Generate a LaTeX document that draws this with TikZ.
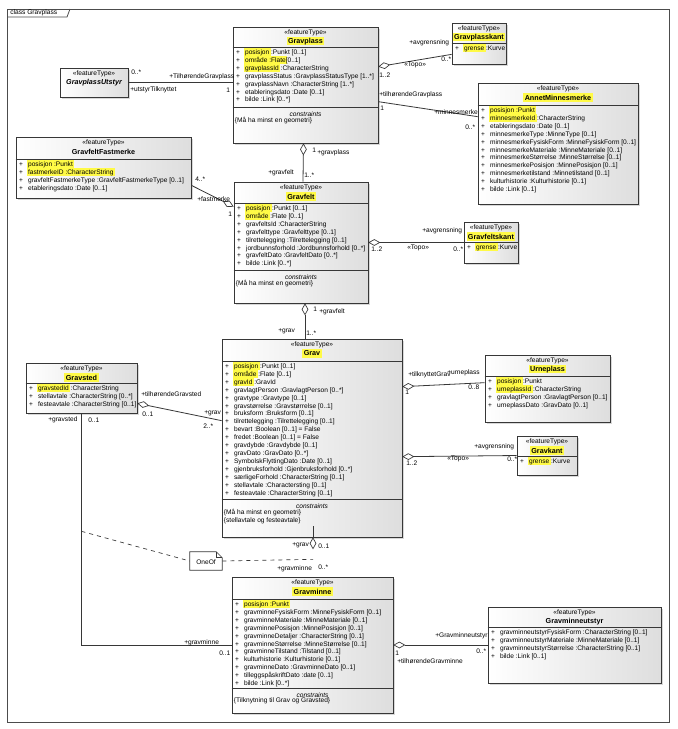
\documentclass[tikz,border=0pt]{standalone}
\usepackage{fontspec}
\setmainfont{Liberation Sans}
\usetikzlibrary{arrows.meta, positioning, calc, fit, shadows}
\definecolor{hlyellow}{RGB}{255,250,70}
\definecolor{umlline}{RGB}{55,55,55}

\newcommand{\umlfont}{\fontsize{4.95pt}{5.93pt}\selectfont}
\newcommand{\namefont}{\fontsize{5.4pt}{6pt}\selectfont}
% yellow marker behind a word, without changing the line height
\newcommand{\hlt}[1]{\setbox0=\hbox{#1}\rlap{\hskip-1.1pt\smash{\color{hlyellow}\rule[-0.5ex]{\dimexpr\wd0+2.2pt\relax}{2.25ex}}}\box0}
\newcommand{\pl}{\makebox[8pt][l]{\hspace{1.2pt}+}}

% class box: name, top left, bottom right, header height, title
\newcommand{\featurebox}[5]{%
  \node[clsbox, fit={#2 #3}] (#1) {};
  \node[stereo] (#1-st) at ($(#1.north)+(0,6.5)$) {«featureType»};
  \node[clsname] (#1-nm) at ($(#1.north)+(0,14.8)$) {#5};
  \draw[sepline] ($(#1.north west)+(0,#4)$) -- ($(#1.north east)+(0,#4)$);
}
\newcommand{\attrlist}[3]{%
  \node[attrs] (#1-at) at ($(#1.north west)+(1.5,#2+1.8)$) {#3};
}
\newcommand{\constraintpart}[3]{%
  \draw[sepline] ($(#1.north west)+(0,#2)$) -- ($(#1.north east)+(0,#2)$);
  \node[stereo, font=\umlfont\itshape] (#1-ch) at ($(#1.north)+(0,#2+6)$) {constraints};
  \node[attrs] (#1-cn) at ($(#1.north west)+(2,#2+9)$) {#3};
}

\begin{document}
\begin{tikzpicture}[x=0.75pt, y=-0.75pt,
  clsbox/.style={draw=umlline, line width=0.5pt, left color=white, right color=black!13, inner sep=0pt,
    drop shadow={shadow xshift=1.3pt, shadow yshift=-1.3pt, opacity=0.3}},
  stereo/.style={font=\umlfont, inner sep=0pt},
  clsname/.style={font=\namefont\bfseries, inner sep=0pt},
  attrs/.style={font=\umlfont, align=left, anchor=north west, inner sep=0pt},
  role/.style={font=\umlfont, anchor=west, inner sep=0pt},
  sepline/.style={draw=umlline, line width=0.5pt},
  conn/.style={draw=umlline, line width=0.6pt},
  aggr/.style={conn, {Diamond[open, length=9pt, width=5pt, line width=0.5pt]}-},
  frameline/.style={draw=black!70, line width=0.6pt}
]
\useasboundingbox (0,0) rectangle (678,729);
\fill[white] (0,0) rectangle (678,729);

% frame
\draw[frameline] (7,9) rectangle (669,722);
\draw[frameline] (7,17) -- (67,17) -- (70,9);
\node[role, font=\fontsize{5pt}{6pt}\selectfont] (title) at (10,13) {class Gravplass};

% classes
\node[clsbox, fit={(60,68) (128,97)}] (gravplassutstyr) {};
\node[stereo] (gravplassutstyr-st) at ($(gravplassutstyr.north)+(0,6.5)$) {«featureType»};
\node[clsname, font=\namefont\bfseries\itshape] (gravplassutstyr-nm) at ($(gravplassutstyr.north)+(0,14.5)$) {GravplassUtstyr};

\featurebox{gravplass}{(233,27)}{(378,143)}{21}{\hlt{Gravplass}}
\attrlist{gravplass}{21}{\pl\hlt{posisjon}~:Punkt [0..1]\\
  \pl\hlt{område~:Flate} [0..1]\\
  \pl\hlt{gravplassId}~:CharacterString\\
  \pl gravplassStatus~:GravplassStatusType [1..*]\\
  \pl gravplassNavn~:CharacterString [1..*]\\
  \pl etableringsdato~:Date [0..1]\\
  \pl bilde~:Link [0..*]}
\constraintpart{gravplass}{81}{\{Må ha minst en geometri\}}

\featurebox{gravplasskant}{(452,23)}{(506,64)}{21}{\hlt{Gravplasskant}}
\attrlist{gravplasskant}{21}{\pl\hlt{grense}~:Kurve}

\featurebox{annetminnesmerke}{(478,83)}{(638,204)}{23}{\hlt{AnnetMinnesmerke}}
\attrlist{annetminnesmerke}{23}{\pl\hlt{posisjon~:Punkt}\\
  \pl\hlt{minnesmerkeId}~:CharacterString\\
  \pl etableringsdato~:Date [0..1]\\
  \pl minnesmerkeType~:MinneType [0..1]\\
  \pl minnesmerkeFysiskForm~:MinneFysiskForm [0..1]\\
  \pl minnesmerkeMateriale~:MinneMateriale [0..1]\\
  \pl minnesmerkeStørrelse~:MinneStørrelse [0..1]\\
  \pl minnesmerkePosisjon~:MinnePosisjon [0..1]\\
  \pl minnesmerketilstand~:Minnetilstand [0..1]\\
  \pl kulturhistorie~:Kulturhistorie [0..1]\\
  \pl bilde~:Link [0..1]}

\featurebox{gravfeltfastmerke}{(16,137)}{(191,198)}{23}{GravfeltFastmerke}
\attrlist{gravfeltfastmerke}{23}{\pl\hlt{posisjon~:Punkt}\\
  \pl\hlt{fastmerkeID~:CharacterString}\\
  \pl gravfeltFastmerkeType~:GravfeltFastmerkeType [0..1]\\
  \pl etableringsdato~:Date [0..1]}

\featurebox{gravfelt}{(234,182)}{(368,303)}{22}{\hlt{Gravfelt}}
\attrlist{gravfelt}{22}{\pl\hlt{posisjon}~:Punkt [0..1]\\
  \pl\hlt{område}~:Flate [0..1]\\
  \pl gravfeltsId~:CharacterString\\
  \pl gravfelttype~:Gravfelttype [0..1]\\
  \pl tilrettelegging~:Tilrettelegging [0..1]\\
  \pl jordbunnsforhold~:Jordbunnsforhold [0..*]\\
  \pl gravfeltDato~:GravfeltDato [0..*]\\
  \pl bilde~:Link [0..*]}
\constraintpart{gravfelt}{89}{\{Må ha minst en geometri\}}

\featurebox{gravfeltskant}{(464,222)}{(518,263)}{21}{\hlt{Gravfeltskant}}
\attrlist{gravfeltskant}{21}{\pl\hlt{grense}~:Kurve}

\featurebox{grav}{(222,339)}{(402,537)}{23}{\hlt{Grav}}
\attrlist{grav}{23}{\pl\hlt{posisjon}~:Punkt [0..1]\\
  \pl\hlt{område}~:Flate [0..1]\\
  \pl\hlt{gravId}~:GravId\\
  \pl gravlagtPerson~:GravlagtPerson [0..*]\\
  \pl gravtype~:Gravtype [0..1]\\
  \pl gravstørrelse~:Gravstørrelse [0..1]\\
  \pl bruksform~:Bruksform [0..1]\\
  \pl tilrettelegging~:Tilrettelegging [0..1]\\
  \pl bevart~:Boolean [0..1] = False\\
  \pl fredet~:Boolean [0..1] = False\\
  \pl gravdybde~:Gravdybde [0..1]\\
  \pl gravDato~:GravDato [0..*]\\
  \pl SymbolskFlyttingDato~:Date [0..1]\\
  \pl gjenbruksforhold~:Gjenbruksforhold [0..*]\\
  \pl særligeForhold~:CharacterString [0..1]\\
  \pl stellavtale~:Charactersting [0..1]\\
  \pl festeavtale~:CharacterString [0..1]}
\constraintpart{grav}{161}{\{Må ha minst en geometri\}\\\{stellavtale og festeavtale\}}

\featurebox{gravsted}{(26,363)}{(137,413)}{21}{\hlt{Gravsted}}
\attrlist{gravsted}{21}{\pl\hlt{gravstedId}~:CharacterString\\
  \pl stellavtale~:CharacterString [0..*]\\
  \pl festeavtale~:CharacterString [0..1]}

\featurebox{urneplass}{(485,355)}{(610,422)}{22}{\hlt{Urneplass}}
\attrlist{urneplass}{22}{\pl\hlt{posisjon}~:Punkt\\
  \pl\hlt{urneplassId}~:CharacterString\\
  \pl gravlagtPerson~:GravlagtPerson [0..1]\\
  \pl urneplassDato~:GravDato [0..1]}

\featurebox{gravkant}{(517,436)}{(577,475)}{21}{\hlt{Gravkant}}
\attrlist{gravkant}{21}{\pl\hlt{grense}~:Kurve}

\featurebox{gravminne}{(232,577)}{(393,713)}{23}{\hlt{Gravminne}}
\attrlist{gravminne}{23}{\pl\hlt{posisjon~:Punkt}\\
  \pl gravminneFysiskForm~:MinneFysiskForm [0..1]\\
  \pl gravminneMateriale~:MinneMateriale [0..1]\\
  \pl gravminnePosisjon~:MinnePosisjon [0..1]\\
  \pl gravminneDetaljer~:CharacterString [0..1]\\
  \pl gravminneStørrelse~:MinneStørrelse [0..1]\\
  \pl gravminneTilstand~:Tilstand [0..1]\\
  \pl kulturhistorie~:Kulturhistorie [0..1]\\
  \pl gravminneDato~:GravminneDato [0..1]\\
  \pl tilleggspåskriftDato~:date [0..1]\\
  \pl bilde~:Link [0..*]}
\constraintpart{gravminne}{112}{\{Tilknytning til Grav og Gravsted\}}

\featurebox{gravminneutstyr}{(488,607)}{(661,683)}{21}{Gravminneutstyr}
\attrlist{gravminneutstyr}{21}{\pl gravminneutstyrFysiskForm~:CharacterString [0..1]\\
  \pl gravminneutstyrMateriale~:MinneMateriale [0..1]\\
  \pl gravminneutstyrStørrelse~:CharacterString [0..1]\\
  \pl bilde~:Link [0..1]}

% note
\node[inner sep=0pt, fit={(190,552) (222,570)}] (oneof) {};
\draw[sepline, fill=white] (oneof.south west) -- (oneof.north west) -- ($(oneof.north east)+(-6,0)$)
  -- ($(oneof.north east)+(0,6)$) -- (oneof.south east) -- cycle;
\draw[sepline] ($(oneof.north east)+(-6,0)$) -- ($(oneof.north east)+(-6,6)$) -- ($(oneof.north east)+(0,6)$);
\node[stereo] (oneof-tx) at ($(oneof.center)+(0,1)$) {OneOf};

% connectors
\draw[conn] (gravplassutstyr.east) -- (gravplassutstyr.east -| gravplass.west);
\draw[aggr] ($(gravplass.north east)+(0,40)$) -- ($(gravplasskant.south west)+(0,-10)$);
\draw[conn] ($(gravplass.north east)+(0,75)$) -- ($(annetminnesmerke.north west)+(0,34)$);
\draw[aggr] ($(gravplass.south)+(-2,0)$) -- ($(gravfelt.north)+(2,0)$);
\draw[aggr] ($(gravfelt.north west)+(0,25)$) -- ($(gravfeltfastmerke.south east)+(0,-13)$);
\draw[aggr] (gravfelt.east) -- (gravfeltskant.west);
\draw[aggr] ($(gravfelt.south)+(4,0)$) -- ($(grav.north)+(-7,0)$);
\draw[aggr] ($(gravsted.south east)+(0,-10)$) -- ($(grav.north west)+(0,82)$);
\draw[conn] (gravsted.south) |- (gravminne.west);
\draw[aggr] ($(grav.south)+(1,0)$) -- ($(grav.south)+(1,0)$ |- gravminne.north);
\draw[aggr] (gravminne.east) -- (gravminneutstyr.west);
\draw[aggr] ($(grav.north east)+(0,48)$) -- ($(urneplass.north west)+(0,28)$);
\draw[aggr] ($(grav.north east)+(0,118)$) -- (gravkant.west);

% OneOf constraint
\coordinate (oneofa) at ($(gravsted.south)+(0,118)$);
\coordinate (oneofb) at ($(grav.south)+(1,22)$);
\draw[conn, line width=0.5pt, dashed] (oneofa) -- (oneof.west);
\draw[conn, line width=0.5pt, dashed] (oneof.east) -- (oneofb);

% role names and multiplicities
\foreach \lx/\ly/\lt [count=\i] in {131/72/{0..*}, 130/90/{+utstyrTilknyttet}, 169/77/{+TilhørendeGravplass}, 226/90/{1},
  409/43/{+avgrensning}, 404/65/{«Topo»}, 379/75/{1..2}, 441/59/{0..*},
  379/95/{+tilhørendeGravplass}, 380/108/{1}, 434/112/{+minnesmerke}, 465/127/{0..*},
  312/150/{1}, 317/153/{+gravplass}, 268/173/{+gravfelt}, 304/175/{1..*},
  195/179/{4..*}, 197/199/{+fastmerke}, 228/214/{1},
  371/249/{1..2}, 407/248/{«Topo»}, 422/231/{+avgrensning}, 453/249/{0..*},
  313/309/{1}, 319/312/{+gravfelt}, 278/331/{+grav}, 306/333/{1..*},
  141/394/{+tilhørendeGravsted}, 142/414/{0..1}, 204/413/{+grav}, 203/426/{2..*},
  48/420/{+gravsted}, 88/420/{0..1}, 184/643/{+gravminne}, 219/653/{0..1},
  292/545/{+grav}, 318/546/{0..1}, 277/569/{+gravminne}, 318/567/{0..*},
  395/653/{1}, 397/661/{+tilhørendeGravminne}, 435/636/{+Gravminneutstyr}, 476/651/{0..*},
  408/375/{+tilknyttetGrav}, 447/373/{+urneplass}, 468/387/{0..8}, 405/392/{1},
  406/463/{1..2}, 447/459/{«Topo»}, 474/447/{+avgrensning}, 507/459/{0..*}}
  \node[role] (lab\i) at (\lx,\ly) {\lt};
\end{tikzpicture}
\end{document}
